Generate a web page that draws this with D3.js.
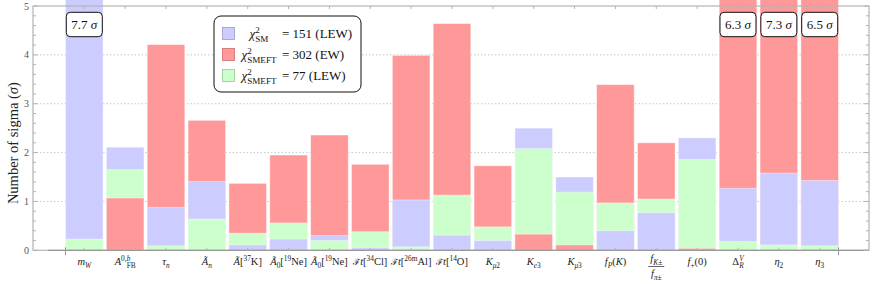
<!DOCTYPE html>
<html>
<head>
<meta charset="utf-8">
<script src="https://cdn.jsdelivr.net/npm/d3@7"></script>
<style>
  body { margin: 0; background: #fff; }
</style>
</head>
<body>
<div id="main"></div>
<script>
// Data
const categories = ["mW", "AFB", "tau", "An", "A37K", "A19Ne", "A19Ne2", "Ft34Cl", "Ft26mAl", "Ft14O",
  "Kmu2", "Ke3", "Kmu3", "fPK", "fKfpi", "fplus", "DeltaRV", "eta2", "eta3"];
const smLEW = [7.7, 2.11, 0.88, 1.41, 0.11, 0.23, 0.30, 0.05, 1.03, 0.31, 0.20, 2.50, 1.50, 0.40, 0.77, 2.30, 1.27, 1.58, 1.43];
const smeftEW = [0, 1.07, 4.21, 2.66, 1.37, 1.95, 2.36, 1.76, 3.99, 4.64, 1.73, 0.33, 0.11, 3.39, 2.20, 0.04, 6.3, 7.3, 6.5];
const smeftLEW = [0.23, 1.65, 0.09, 0.64, 0.35, 0.56, 0.20, 0.38, 0.07, 1.13, 0.48, 2.08, 1.19, 0.97, 1.05, 1.86, 0.18, 0.11, 0.09];

// tick labels as rich text segments: i italic, r roman, b sub, p sup, u = under previous sup, k = smaller glyph
const tickLabels = [
  [["m", "i"], ["W", "bi"]],
  [["A", "i"], ["0,", "p"], ["b", "pi"], ["FB", "bu"]],
  [["τ", "i"], ["n", "bi"]],
  [["Ã", "i"], ["n", "bi"]],
  [["Ã", "i"], ["[", "r"], ["37", "p"], ["K]", "r"]],
  [["Ã", "i"], ["0", "b"], ["[", "r"], ["19", "p"], ["Ne]", "r"]],
  [["Ã", "i"], ["0", "b"], ["[", "r"], ["19", "p"], ["Ne]", "r"]],
  [["ℱ", "rk"], ["t", "i"], ["[", "r"], ["34", "p"], ["Cl]", "r"]],
  [["ℱ", "rk"], ["t", "i"], ["[", "r"], ["26m", "p"], ["Al]", "r"]],
  [["ℱ", "rk"], ["t", "i"], ["[", "r"], ["14", "p"], ["O]", "r"]],
  [["K", "i"], ["μ", "bi"], ["2", "b"]],
  [["K", "i"], ["e", "bi"], ["3", "b"]],
  [["K", "i"], ["μ", "bi"], ["3", "b"]],
  [["f", "i"], ["P", "bi"], ["(", "r"], ["K", "i"], [")", "r"]],
  { num: [["f", "i"], ["K±", "bi"]], den: [["f", "i"], ["π±", "bi"]] },
  [["f", "i"], ["+", "b"], ["(0)", "r"]],
  [["Δ", "r"], ["V", "pi"], ["R", "biu"]],
  [["η", "i"], ["2", "b"]],
  [["η", "i"], ["3", "b"]],
];

const seriesNames = [
  { key: "sm", values: smLEW, color: "#ccccff", edge: "#9a9ad0",
    lhs: [["χ", "i"], ["2", "p"], ["SM", "bu"]], rhs: "= 151 (LEW)" },
  { key: "ew", values: smeftEW, color: "#ff9999", edge: "#d06a6a",
    lhs: [["χ", "i"], ["2", "p"], ["SMEFT", "bu"]], rhs: "= 302 (EW)" },
  { key: "lew", values: smeftLEW, color: "#ccffcc", edge: "#92cc92",
    lhs: [["χ", "i"], ["2", "p"], ["SMEFT", "bu"]], rhs: "= 77 (LEW)" },
];

const yTicks = [0, 1, 2, 3, 4, 5];

// Layout
const width = 872, height = 284;
const frame = { left: 33, right: 869, top: 6, bottom: 250.3 };
const serif = '"Liberation Serif", "Times New Roman", serif';

const svg = d3.select("#main").append("svg").attr("width", width).attr("height", height)
  .style("display", "block").attr("font-family", serif);

const x = d3.scaleBand().domain(categories).range([65.5, 838.5]).paddingInner(0.08).paddingOuter(0);
const y = d3.scaleLinear().domain([0, 5]).range([frame.bottom, frame.top]);

function richText(sel, segs, size) {
  let shift = 0, prevLen = 0;
  segs.forEach(([t, st]) => {
    const sub = st.startsWith("b"), sup = st.startsWith("p");
    const scale = sub || sup ? 0.7 : st.includes("k") ? 0.82 : 1;
    const ts = sel.append("tspan").text(t)
      .attr("font-style", st.includes("i") ? "italic" : "normal")
      .attr("font-size", size * scale);
    const target = sub ? 0.28 * size : sup ? -0.42 * size : 0;
    if (target - shift !== 0) ts.attr("dy", target - shift);
    shift = target;
    if (st.includes("u")) ts.attr("dx", -prevLen);
    prevLen = ts.node().getComputedTextLength();
  });
}

// grid
svg.append("g").selectAll("line").data(yTicks.slice(1, -1)).join("line")
  .attr("x1", frame.left).attr("x2", frame.right)
  .attr("y1", (d) => y(d)).attr("y2", (d) => y(d))
  .attr("stroke", "#c8c8c8").attr("stroke-dasharray", "1.5,2");

// bars: all start at zero, largest drawn first
const rows = categories.map((c, i) => ({
  cat: c,
  bars: seriesNames.map((s) => ({ value: s.values[i], color: s.color }))
    .sort((a, b) => b.value - a.value),
}));

const barg = svg.append("g");
rows.forEach((r) => {
  barg.selectAll(null).data(r.bars).join("rect")
    .attr("x", x(r.cat)).attr("width", x.bandwidth())
    .attr("y", (d) => y(d.value)).attr("height", (d) => y(0) - y(d.value))
    .attr("fill", (d) => d.color)
    .attr("stroke", "#fff").attr("stroke-opacity", 0.5).attr("stroke-width", 0.8);
});

// frame
const fg = svg.append("g").attr("fill", "none").attr("stroke", "#b4b4b4");
fg.append("rect").attr("x", frame.left).attr("y", frame.top)
  .attr("width", frame.right - frame.left).attr("height", frame.bottom - frame.top)
  .attr("stroke-width", 1.2);
fg.append("line").attr("x1", 48).attr("x2", frame.right).attr("y1", y(0)).attr("y2", y(0))
  .attr("stroke", "#999").attr("stroke-width", 1.2);

// y ticks, left and right, inward
const minor = d3.range(0, 5.001, 0.2);
[frame.left, frame.right].forEach((fx, k) => {
  const dir = k === 0 ? 1 : -1;
  fg.selectAll(null).data(minor).join("line")
    .attr("x1", fx).attr("x2", (d) => fx + dir * (Math.abs(d - Math.round(d)) < 1e-6 ? 5 : 3))
    .attr("y1", (d) => y(d)).attr("y2", (d) => y(d));
});
svg.append("g").selectAll("text").data(yTicks).join("text")
  .attr("x", 29).attr("y", (d) => y(d) + 3.5)
  .attr("text-anchor", "end").attr("font-size", 10).attr("fill", "#555")
  .text((d) => d);

// x ticks at centres (top and bottom) and band ends
fg.selectAll(null).data(categories).join("line")
  .attr("x1", (d) => x(d) + x.bandwidth() / 2).attr("x2", (d) => x(d) + x.bandwidth() / 2)
  .attr("y1", frame.top).attr("y2", frame.top + 3);
fg.selectAll(null).data(categories).join("line")
  .attr("x1", (d) => x(d) + x.bandwidth() / 2).attr("x2", (d) => x(d) + x.bandwidth() / 2)
  .attr("y1", y(0)).attr("y2", y(0) - 2.5);
fg.selectAll(null).data(x.range()).join("line")
  .attr("x1", (d) => d).attr("x2", (d) => d)
  .attr("y1", y(0) - 3).attr("y2", y(0) + 5).attr("stroke", "#999");

// x labels
const fs = 10.5;
const lg = svg.append("g").attr("fill", "#222");
tickLabels.forEach((lab, i) => {
  const cx = x(categories[i]) + x.bandwidth() / 2;
  if (Array.isArray(lab)) {
    const t = lg.append("text").attr("x", cx).attr("y", 265).attr("text-anchor", "middle").attr("font-size", fs);
    richText(t, lab, fs);
  } else {
    const n = lg.append("text").attr("x", cx).attr("y", 262).attr("text-anchor", "middle").attr("font-size", fs);
    richText(n, lab.num, fs);
    const d = lg.append("text").attr("x", cx).attr("y", 277).attr("text-anchor", "middle").attr("font-size", fs);
    richText(d, lab.den, fs);
    lg.append("line").attr("x1", cx - 8).attr("x2", cx + 8).attr("y1", 266.5).attr("y2", 266.5)
      .attr("stroke", "#222").attr("stroke-width", 0.7);
  }
});

// callouts for values above the axis range
const over = [];
categories.forEach((c, i) => {
  const m = d3.max(seriesNames, (s) => s.values[i]);
  if (m > y.domain()[1]) over.push({ cat: c, value: m });
});
const cg = svg.append("g").selectAll("g").data(over).join("g")
  .attr("transform", (d) => `translate(${x(d.cat) + x.bandwidth() / 2},24.5)`);
cg.append("rect").attr("x", -18).attr("y", -12.2).attr("width", 36).attr("height", 24.4)
  .attr("rx", 4).attr("fill", "#fff").attr("stroke", "#111").attr("stroke-width", 1);
cg.append("text").attr("text-anchor", "middle").attr("y", 4.5).attr("font-size", 13).attr("fill", "#111")
  .each(function (d) {
    richText(d3.select(this), [[d.value.toFixed(1) + " ", "r"], ["σ", "i"]], 13);
  });

// legend
const leg = svg.append("g").attr("transform", "translate(214,16)");
leg.append("rect").attr("width", 147).attr("height", 76).attr("rx", 7)
  .attr("fill", "#fff").attr("stroke", "#111").attr("stroke-width", 1);
seriesNames.forEach((s, i) => {
  const ry = 17.5 + i * 21;
  leg.append("rect").attr("x", 8.5).attr("y", ry - 6).attr("width", 12).attr("height", 12)
    .attr("fill", s.color).attr("stroke", s.edge).attr("stroke-width", 0.8);
  const l = leg.append("text").attr("x", 45).attr("y", ry + 4.5).attr("text-anchor", "middle")
    .attr("font-size", 13).attr("fill", "#111");
  richText(l, s.lhs, 13);
  leg.append("text").attr("x", 68).attr("y", ry + 4.5).attr("font-size", 13).attr("fill", "#111")
    .text(s.rhs);
});

// y axis title
svg.append("text").attr("transform", `translate(18,${(frame.top + frame.bottom) / 2 + 15}) rotate(-90)`)
  .attr("text-anchor", "middle").attr("font-size", 14.5).attr("fill", "#222")
  .each(function () {
    richText(d3.select(this), [["Number of sigma (", "r"], ["σ", "i"], [")", "r"]], 14.5);
  });
</script>
</body>
</html>
